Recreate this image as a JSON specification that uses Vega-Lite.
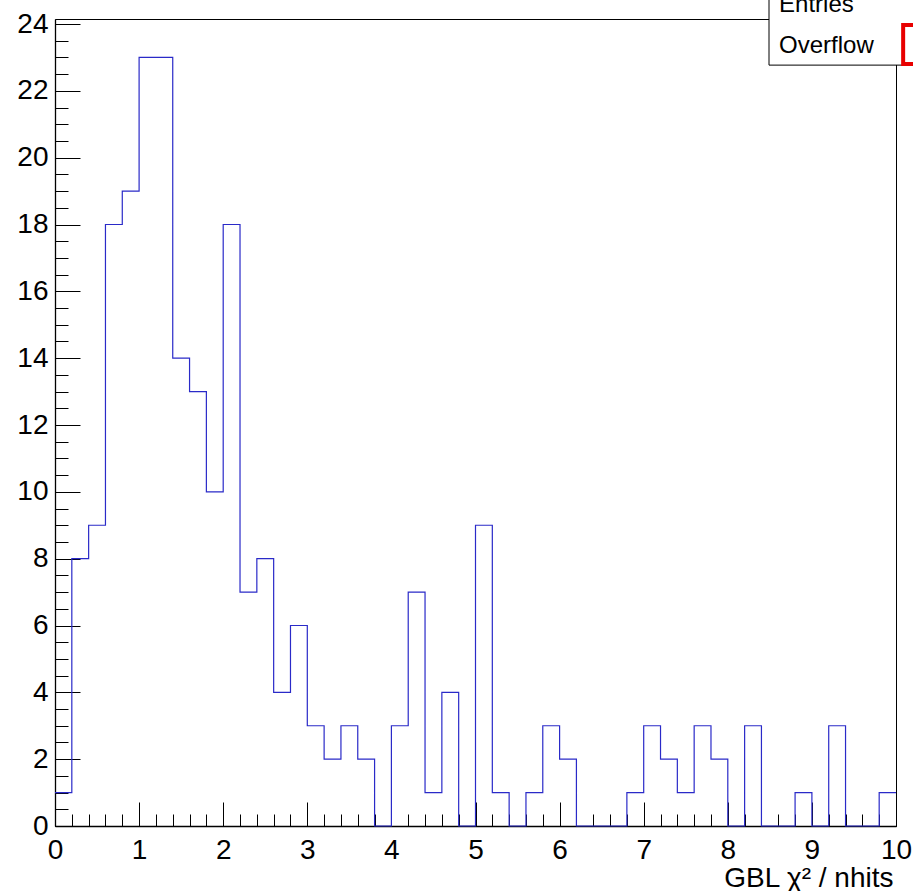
{
  "$schema": "https://vega.github.io/schema/vega-lite/v6.json",
  "width": 841,
  "height": 807,
  "autosize": {"type": "none"},
  "padding": {"left": 55, "top": 19, "right": 17, "bottom": 65},
  "background": "white",
  "config": {
    "font": "Liberation Sans",
    "view": {"stroke": "black", "strokeWidth": 1},
    "axis": {"grid": false, "domainColor": "black", "tickColor": "black", "labelColor": "black", "titleColor": "black", "zindex": 1, "tickWidth": 1, "domainWidth": 1.3}
  },
  "data": {"values": [
    {"lo": 0.0, "hi": 0.2, "n": 1}, {"lo": 0.2, "hi": 0.4, "n": 8}, {"lo": 0.4, "hi": 0.6, "n": 9}, {"lo": 0.6, "hi": 0.8, "n": 18}, {"lo": 0.8, "hi": 1.0, "n": 19},
    {"lo": 1.0, "hi": 1.2, "n": 23}, {"lo": 1.2, "hi": 1.4, "n": 23}, {"lo": 1.4, "hi": 1.6, "n": 14}, {"lo": 1.6, "hi": 1.8, "n": 13}, {"lo": 1.8, "hi": 2.0, "n": 10},
    {"lo": 2.0, "hi": 2.2, "n": 18}, {"lo": 2.2, "hi": 2.4, "n": 7}, {"lo": 2.4, "hi": 2.6, "n": 8}, {"lo": 2.6, "hi": 2.8, "n": 4}, {"lo": 2.8, "hi": 3.0, "n": 6},
    {"lo": 3.0, "hi": 3.2, "n": 3}, {"lo": 3.2, "hi": 3.4, "n": 2}, {"lo": 3.4, "hi": 3.6, "n": 3}, {"lo": 3.6, "hi": 3.8, "n": 2}, {"lo": 3.8, "hi": 4.0, "n": 0},
    {"lo": 4.0, "hi": 4.2, "n": 3}, {"lo": 4.2, "hi": 4.4, "n": 7}, {"lo": 4.4, "hi": 4.6, "n": 1}, {"lo": 4.6, "hi": 4.8, "n": 4}, {"lo": 4.8, "hi": 5.0, "n": 0},
    {"lo": 5.0, "hi": 5.2, "n": 9}, {"lo": 5.2, "hi": 5.4, "n": 1}, {"lo": 5.4, "hi": 5.6, "n": 0}, {"lo": 5.6, "hi": 5.8, "n": 1}, {"lo": 5.8, "hi": 6.0, "n": 3},
    {"lo": 6.0, "hi": 6.2, "n": 2}, {"lo": 6.2, "hi": 6.4, "n": 0}, {"lo": 6.4, "hi": 6.6, "n": 0}, {"lo": 6.6, "hi": 6.8, "n": 0}, {"lo": 6.8, "hi": 7.0, "n": 1},
    {"lo": 7.0, "hi": 7.2, "n": 3}, {"lo": 7.2, "hi": 7.4, "n": 2}, {"lo": 7.4, "hi": 7.6, "n": 1}, {"lo": 7.6, "hi": 7.8, "n": 3}, {"lo": 7.8, "hi": 8.0, "n": 2},
    {"lo": 8.0, "hi": 8.2, "n": 0}, {"lo": 8.2, "hi": 8.4, "n": 3}, {"lo": 8.4, "hi": 8.6, "n": 0}, {"lo": 8.6, "hi": 8.8, "n": 0}, {"lo": 8.8, "hi": 9.0, "n": 1},
    {"lo": 9.0, "hi": 9.2, "n": 0}, {"lo": 9.2, "hi": 9.4, "n": 3}, {"lo": 9.4, "hi": 9.6, "n": 0}, {"lo": 9.6, "hi": 9.8, "n": 0}, {"lo": 9.8, "hi": 10.0, "n": 1}
  ]},
  "resolve": {"axis": {"x": "independent", "y": "independent"}},
  "layer": [
    {
      "transform": [{"fold": ["lo", "hi"], "as": ["edge", "x"]}],
      "mark": {"type": "line", "color": "#2a2ac8", "strokeWidth": 1.2},
      "encoding": {
        "x": {"field": "x", "type": "quantitative", "scale": {"domain": [0, 10], "nice": false, "zero": false},
          "axis": {"orient": "bottom", "values": [0, 0.2, 0.4, 0.6, 0.8, 1, 1.2, 1.4, 1.6, 1.8, 2, 2.2, 2.4, 2.6, 2.8, 3, 3.2, 3.4, 3.6, 3.8, 4, 4.2, 4.4, 4.6, 4.8, 5, 5.2, 5.4, 5.6, 5.8, 6, 6.2, 6.4, 6.6, 6.8, 7, 7.2, 7.4, 7.6, 7.8, 8, 8.2, 8.4, 8.6, 8.8, 9, 9.2, 9.4, 9.6, 9.8, 10],
            "tickSize": -12, "labels": false, "domain": false, "title": null}},
        "y": {"field": "n", "type": "quantitative", "scale": {"domain": [0, 24.15], "nice": false, "zero": false},
          "axis": {"orient": "left", "values": [0, 0.5, 1, 1.5, 2, 2.5, 3, 3.5, 4, 4.5, 5, 5.5, 6, 6.5, 7, 7.5, 8, 8.5, 9, 9.5, 10, 10.5, 11, 11.5, 12, 12.5, 13, 13.5, 14, 14.5, 15, 15.5, 16, 16.5, 17, 17.5, 18, 18.5, 19, 19.5, 20, 20.5, 21, 21.5, 22, 22.5, 23, 23.5, 24],
            "tickSize": -13, "labels": false, "domain": false, "title": null}}
      }
    },
    {
      "data": {"values": [{}]},
      "mark": {"type": "rect", "fill": "white", "stroke": "black", "strokeWidth": 1},
      "encoding": {
        "x": {"datum": 8.49, "type": "quantitative", "scale": {"domain": [0, 10], "nice": false, "zero": false},
          "axis": {"orient": "bottom", "values": [0, 1, 2, 3, 4, 5, 6, 7, 8, 9, 10], "tickSize": -24, "labelFontSize": 28, "labelPadding": 34, "labelFlush": false, "labelOverlap": false, "format": "d",
            "title": "GBL χ² / nhits", "titleFontSize": 28, "titleFontWeight": "normal", "titleAnchor": "end", "titlePadding": 0, "titleX": 838}},
        "x2": {"datum": 10.6},
        "y": {"datum": 22.77, "type": "quantitative", "scale": {"domain": [0, 24.15], "nice": false, "zero": false},
          "axis": {"orient": "left", "values": [0, 2, 4, 6, 8, 10, 12, 14, 16, 18, 20, 22, 24], "tickSize": -25, "labelFontSize": 28, "labelPadding": 32, "labelFlush": false, "labelOverlap": false, "format": "d", "title": null}},
        "y2": {"datum": 25.5}
      }
    },
    {
      "data": {"values": [{}]},
      "mark": {"type": "rect", "fill": null, "stroke": "#e80000", "strokeWidth": 4},
      "encoding": {
        "x": {"datum": 10.085, "type": "quantitative", "scale": {"domain": [0, 10], "nice": false, "zero": false}, "axis": null},
        "x2": {"datum": 10.6},
        "y": {"datum": 22.8, "type": "quantitative", "scale": {"domain": [0, 24.15], "nice": false, "zero": false}, "axis": null},
        "y2": {"datum": 23.97}
      }
    },
    {
      "data": {"values": [{}]},
      "mark": {"type": "text", "text": "Entries", "align": "left", "baseline": "alphabetic", "fontSize": 24, "color": "black"},
      "encoding": {
        "x": {"datum": 8.61, "type": "quantitative", "scale": {"domain": [0, 10], "nice": false, "zero": false}, "axis": null},
        "y": {"datum": 24.36, "type": "quantitative", "scale": {"domain": [0, 24.15], "nice": false, "zero": false}, "axis": null}
      }
    },
    {
      "data": {"values": [{}]},
      "mark": {"type": "text", "text": "Overflow", "align": "left", "baseline": "alphabetic", "fontSize": 24, "color": "black"},
      "encoding": {
        "x": {"datum": 8.61, "type": "quantitative", "scale": {"domain": [0, 10], "nice": false, "zero": false}, "axis": null},
        "y": {"datum": 23.13, "type": "quantitative", "scale": {"domain": [0, 24.15], "nice": false, "zero": false}, "axis": null}
      }
    }
  ]
}
